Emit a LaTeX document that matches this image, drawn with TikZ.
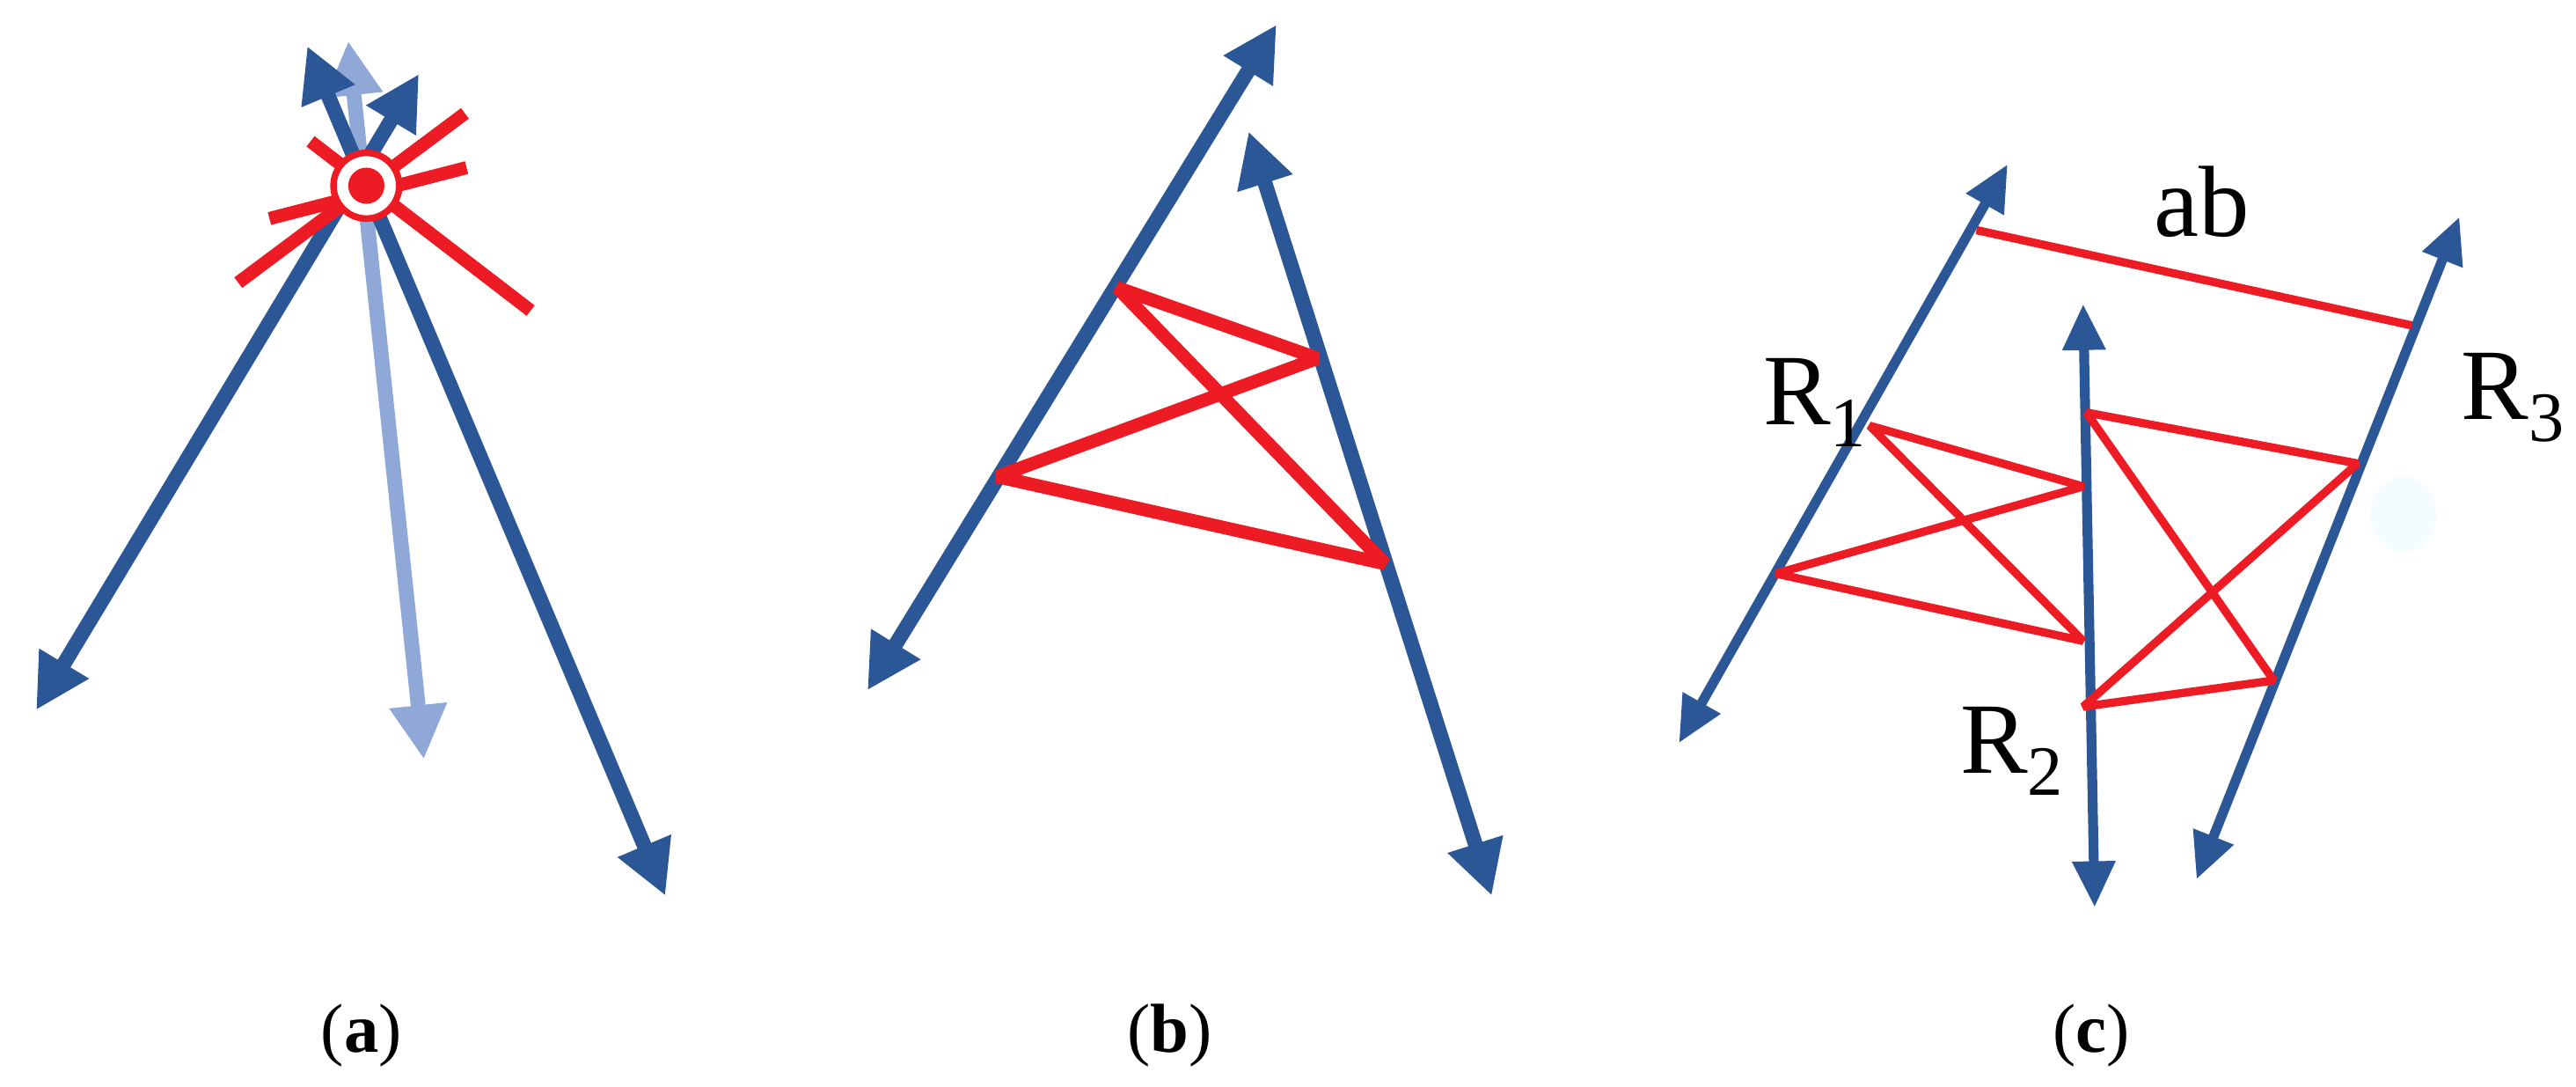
\documentclass[tikz,border=0pt]{standalone}
\usepackage{fontspec}
\setmainfont{Liberation Serif}
\usetikzlibrary{arrows.meta}
\definecolor{db}{RGB}{43,87,151}
\definecolor{lb}{RGB}{143,168,216}
\definecolor{rd}{RGB}{237,28,36}
\begin{document}
\begin{tikzpicture}[x=0.02cm,y=-0.02cm,
 big/.style={line width=9*0.02cm,{Triangle[length=0.66cm,width=0.66cm]}-{Triangle[length=0.66cm,width=0.66cm]}},
 small/.style={line width=6*0.02cm,{Triangle[length=0.56cm,width=0.5cm]}-{Triangle[length=0.56cm,width=0.5cm]}},
 redA/.style={rd,line width=8*0.02cm},
 redC/.style={rd,line width=5*0.02cm,line join=bevel},
 lbl/.style={font=\fontsize{35}{37}\selectfont,inner sep=0pt},
 plab/.style={font=\fontsize{24}{26}\selectfont,inner sep=0pt}]
\useasboundingbox (0,0) rectangle (1568,661);
% panel a
\coordinate (a1) at (22,432); \coordinate (a2) at (255,45);
\coordinate (a3) at (405,545); \coordinate (a4) at (187,28);
\coordinate (a5) at (258,462); \coordinate (a6) at (212,25);
\draw[big,lb,draw=lb] (a5) -- (a6);
\draw[big,db] (a1) -- (a2);
\draw[big,db] (a3) -- (a4);
\coordinate (r1) at (189,86); \coordinate (r2) at (323,189);
\coordinate (r3) at (145,172); \coordinate (r4) at (283,69);
\coordinate (r5) at (164,133); \coordinate (r6) at (284,102);
\draw[redA] (r1) -- (r2); \draw[redA] (r3) -- (r4); \draw[redA] (r5) -- (r6);
\node[circle,draw=rd,fill=white,line width=4*0.02cm,minimum size=40*0.02cm,inner sep=0pt] (ctr) at (223,113) {};
\node[circle,fill=rd,minimum size=22*0.02cm,inner sep=0pt] (dot) at (ctr) {};
% panel b
\coordinate (b1) at (528,420); \coordinate (b2) at (777,15);
\coordinate (b3) at (908,545); \coordinate (b4) at (760,80);
\draw[big,db] (b1) -- (b2);
\draw[big,db] (b3) -- (b4);
\coordinate (p1) at (680,175); \coordinate (p2) at (802,218);
\coordinate (p3) at (607,290); \coordinate (p4) at (843,343);
\draw[redA,line join=bevel] (p1) -- (p2) -- (p3) -- (p4) -- cycle;
% panel c
\coordinate (c1) at (1022,452); \coordinate (c2) at (1222,100);
\coordinate (c3) at (1275,552); \coordinate (c4) at (1268,185);
\coordinate (c5) at (1337,535); \coordinate (c6) at (1497,132);
\fill[black!3!cyan!4] (1463,313) ellipse (20 and 23);
\draw[small,db] (c1) -- (c2);
\draw[small,db] (c3) -- (c4);
\draw[small,db] (c5) -- (c6);
\coordinate (q1) at (1203,140); \coordinate (q2) at (1468,198);
\draw[redC] (q1) -- (q2);
\coordinate (l1) at (1138,259); \coordinate (l2) at (1268,296);
\coordinate (l3) at (1081,349); \coordinate (l4) at (1268,390);
\draw[redC] (l1) -- (l2) -- (l3) -- (l4) -- cycle;
\coordinate (m1) at (1270,251); \coordinate (m2) at (1435,282);
\coordinate (m3) at (1268,430); \coordinate (m4) at (1384,414);
\draw[redC] (m1) -- (m2) -- (m3) -- (m4) -- cycle;
\node[lbl] (ab) at (1340,123) {ab};
\node[lbl] (R1) at (1105,245) {R\textsubscript{1}};
\node[lbl] (R2) at (1225,457) {R\textsubscript{2}};
\node[lbl] (R3) at (1530,242) {R\textsubscript{3}};
\node[plab] (la) at (220,630) {(\textbf{a})};
\node[plab] (lb) at (712,630) {(\textbf{b})};
\node[plab] (lc) at (1273,630) {(\textbf{c})};
\end{tikzpicture}
\end{document}
